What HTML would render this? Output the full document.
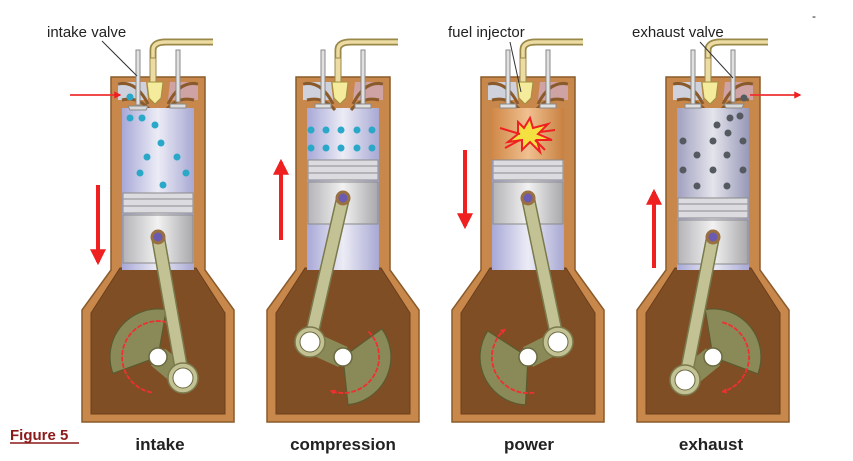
<!DOCTYPE html>
<html><head><meta charset="utf-8"><style>
html,body{margin:0;padding:0;background:#fff;}
svg{display:block;}
text{font-family:"Liberation Sans",sans-serif;}
</style></head><body>
<svg width="853" height="461" viewBox="0 0 853 461" xmlns="http://www.w3.org/2000/svg">
<defs>
<linearGradient id="bore" x1="0" x2="1" y1="0" y2="0">
<stop offset="0" stop-color="#a8a8d8"/><stop offset="0.5" stop-color="#ececf6"/><stop offset="1" stop-color="#a8a8d4"/></linearGradient>
<linearGradient id="skirt" x1="0" x2="1"><stop offset="0" stop-color="#b4b4b8"/><stop offset="0.5" stop-color="#f2f2f2"/><stop offset="1" stop-color="#a8a8ac"/></linearGradient>
<linearGradient id="hot" x1="0" x2="1"><stop offset="0" stop-color="#d08848"/><stop offset="0.5" stop-color="#f0c090"/><stop offset="1" stop-color="#c88040"/></linearGradient>
<linearGradient id="gas" x1="0" x2="1"><stop offset="0" stop-color="#a0a0c0"/><stop offset="0.5" stop-color="#e4e4ec"/><stop offset="1" stop-color="#9898b8"/></linearGradient>
<marker id="ah" viewBox="0 0 10 10" refX="8" refY="5" markerWidth="4" markerHeight="4" orient="auto"><path d="M0,0 L10,5 L0,10 z" fill="#ee2020"/></marker>
<marker id="ah2" viewBox="0 0 10 10" refX="8" refY="5" markerWidth="3" markerHeight="3" orient="auto"><path d="M0,0 L10,5 L0,10 z" fill="#ee3030"/></marker>
<g id="body">
<path d="M-47,77 L47,77 L47,270 L76,310 L76,422 L-76,422 L-76,310 L-47,270 Z" fill="#c8884c" stroke="#8a5a2a" stroke-width="1.5"/>
<path d="M-38,268 L38,268 L67,313 L67,414 L-67,414 L-67,313 Z" fill="#804e24" stroke="#6a3e1c"/>
<rect x="-36" y="108" width="72" height="162" fill="url(#bore)"/>
<path d="M-40,82 L-12,82 L-10,100 L-40,100 Z" fill="#cfd2dc"/>
<path d="M12,82 L40,82 L40,100 L10,100 Z" fill="#cfa2a4"/>
<path d="M-40,84 Q-22,80 -10,104 M40,84 Q22,80 10,104" stroke="#8a5a2a" stroke-width="3" fill="none"/>
<path d="M-36,100 Q-20,96 -8,110 M36,100 Q20,96 8,110" stroke="#8a5a2a" stroke-width="3" fill="none"/>
<path d="M-5,62 L-5,50 Q-5,42 8,42 L55,42" stroke="#9a8848" stroke-width="7" fill="none"/>
<path d="M-5,62 L-5,50 Q-5,42 8,42 L55,42" stroke="#ecdca4" stroke-width="3.5" fill="none"/>
<rect x="-8" y="58" width="6" height="26" fill="#ecdca4" stroke="#9a8848"/>
<path d="M-11,82 L5,82 L3,98 L-3,104 L-9,98 Z" fill="#f4ec9c" stroke="#a09040"/>
</g>
</defs>

<g transform="translate(158,0)"><use href="#body"/></g>
<rect x="122" y="108" width="72" height="85" fill="url(#bore)"/>
<g stroke="#8a8a8a" fill="#ddd"><rect x="136" y="50" width="4" height="55" fill="#e0e0e0"/><rect x="176" y="50" width="4" height="52" fill="#e0e0e0"/>
<path d="M128,106 L148,106 L146,110 L130,110Z" fill="#d8d8d8"/><path d="M170,104 L186,104 L186,108 L170,108Z"/></g>
<g fill="#2aa8c8"><circle cx="130" cy="97" r="3.5"/><circle cx="130" cy="118" r="3.5"/><circle cx="142" cy="118" r="3.5"/><circle cx="155" cy="125" r="3.5"/><circle cx="161" cy="143" r="3.5"/><circle cx="147" cy="157" r="3.5"/><circle cx="177" cy="157" r="3.5"/><circle cx="140" cy="173" r="3.5"/><circle cx="186" cy="173" r="3.5"/><circle cx="163" cy="185" r="3.5"/></g>

<g transform="translate(343,0)"><use href="#body"/></g>
<g fill="#e0e0e0" stroke="#8a8a8a"><rect x="321" y="50" width="4" height="55"/><rect x="361" y="50" width="4" height="55"/><rect x="315" y="104" width="16" height="4"/><rect x="355" y="104" width="16" height="4"/></g>
<g fill="#2aa8c8"><circle cx="311" cy="130" r="3.5"/><circle cx="326" cy="130" r="3.5"/><circle cx="341" cy="130" r="3.5"/><circle cx="357" cy="130" r="3.5"/><circle cx="372" cy="130" r="3.5"/><circle cx="311" cy="148" r="3.5"/><circle cx="326" cy="148" r="3.5"/><circle cx="341" cy="148" r="3.5"/><circle cx="357" cy="148" r="3.5"/><circle cx="372" cy="148" r="3.5"/></g>

<g transform="translate(528,0)"><use href="#body"/></g>
<rect x="492" y="108" width="72" height="52" fill="url(#hot)"/>
<g fill="#e0e0e0" stroke="#8a8a8a"><rect x="506" y="50" width="4" height="55"/><rect x="546" y="50" width="4" height="55"/><rect x="500" y="104" width="16" height="4"/><rect x="540" y="104" width="16" height="4"/></g>
<path d="M518,122 L524,128 L530,118 L533,128 L548,124 L538,134 L552,140 L537,140 L540,152 L530,142 L522,150 L522,140 L508,142 L518,134 Z" fill="#f4e040" stroke="#ee2020" stroke-width="2"/>
<path d="M500,128 L520,134 M505,148 L520,140 M545,150 L535,140 M555,130 L540,132" stroke="#ee2020" stroke-width="2"/>

<g transform="translate(713,0)"><use href="#body"/></g>
<rect x="677" y="108" width="72" height="90" fill="url(#gas)"/>
<g fill="#e0e0e0" stroke="#8a8a8a"><rect x="691" y="50" width="4" height="55"/><rect x="731" y="50" width="4" height="52"/><rect x="685" y="104" width="16" height="4"/><path d="M724,104 L744,104 L742,108 L726,108Z" fill="#d8d8d8"/></g>
<g fill="#555a60"><circle cx="744" cy="98" r="3.5"/><circle cx="730" cy="118" r="3.5"/><circle cx="740" cy="116" r="3.5"/><circle cx="717" cy="125" r="3.5"/><circle cx="683" cy="141" r="3.5"/><circle cx="713" cy="141" r="3.5"/><circle cx="728" cy="133" r="3.5"/><circle cx="743" cy="141" r="3.5"/><circle cx="697" cy="155" r="3.5"/><circle cx="727" cy="155" r="3.5"/><circle cx="683" cy="170" r="3.5"/><circle cx="713" cy="170" r="3.5"/><circle cx="743" cy="170" r="3.5"/><circle cx="697" cy="186" r="3.5"/><circle cx="727" cy="186" r="3.5"/></g>

<g stroke="#8a8a8a">
<rect x="123" y="193" width="70" height="20" fill="#dcdce0"/><rect x="123" y="215" width="70" height="48" fill="url(#skirt)"/>
<rect x="308" y="160" width="70" height="20" fill="#dcdce0"/><rect x="308" y="182" width="70" height="42" fill="url(#skirt)"/>
<rect x="493" y="160" width="70" height="20" fill="#dcdce0"/><rect x="493" y="182" width="70" height="42" fill="url(#skirt)"/>
<rect x="678" y="198" width="70" height="20" fill="#dcdce0"/><rect x="678" y="220" width="70" height="44" fill="url(#skirt)"/>
</g>
<g stroke="#9a9aa0" stroke-width="1.2">
<path d="M123,199 H193 M123,206 H193 M308,166 H378 M308,173 H378 M493,166 H563 M493,173 H563 M678,204 H748 M678,211 H748"/>
</g>

<g fill="#8a8a58" stroke="#5a5a30" stroke-width="1.2">
<path d="M158,357 L112.9,373.4 A48,48 0 0 1 166.3,309.7 Z"/><line x1="158" y1="357" x2="183" y2="378" stroke="#8a8a58" stroke-width="22"/>
<path d="M343,357 L381.8,328.8 A48,48 0 0 1 348,404.7 Z"/><line x1="343" y1="357" x2="310" y2="342" stroke="#8a8a58" stroke-width="22"/>
<path d="M528,357 L525.5,404.9 A48,48 0 0 1 487.7,330.9 Z"/><line x1="528" y1="357" x2="558" y2="342" stroke="#8a8a58" stroke-width="22"/>
<path d="M713,357 L705.2,309.6 A48,48 0 0 1 757.9,373.9 Z"/><line x1="713" y1="357" x2="685" y2="380" stroke="#8a8a58" stroke-width="22"/>
</g>
<g fill="#fff" stroke="#6a6a40" stroke-width="1.5">
<circle cx="158" cy="357" r="9"/><circle cx="343" cy="357" r="9"/><circle cx="528" cy="357" r="9"/><circle cx="713" cy="357" r="9"/></g>
<g stroke="#ee3030" stroke-width="1.8" fill="none" stroke-dasharray="5 1.5" marker-end="url(#ah2)">
<path d="M151.7,392.5 A36,36 0 1 1 170.3,323.2"/>
<path d="M368.5,331.5 A36,36 0 0 1 330.7,390.8"/>
<path d="M534.3,392.5 A36,36 0 0 1 504.9,329.4"/>
<path d="M722.3,322.2 A36,36 0 0 1 722.3,391.8"/>
</g>

<g stroke-linecap="round">
<g stroke="#7a7a4c" stroke-width="14"><line x1="158" y1="237" x2="183" y2="378"/><line x1="343" y1="198" x2="310" y2="342"/><line x1="528" y1="198" x2="558" y2="342"/><line x1="713" y1="237" x2="685" y2="380"/></g>
<g stroke="#c2c294" stroke-width="11"><line x1="158" y1="237" x2="183" y2="378"/><line x1="343" y1="198" x2="310" y2="342"/><line x1="528" y1="198" x2="558" y2="342"/><line x1="713" y1="237" x2="685" y2="380"/></g>
</g>
<g fill="#c2c294" stroke="#7a7a4c" stroke-width="1.5"><circle cx="183" cy="378" r="15"/><circle cx="310" cy="342" r="15"/><circle cx="558" cy="342" r="15"/><circle cx="685" cy="380" r="15"/></g>
<g fill="#fff" stroke="#6a6a40"><circle cx="183" cy="378" r="10"/><circle cx="310" cy="342" r="10"/><circle cx="558" cy="342" r="10"/><circle cx="685" cy="380" r="10"/></g>
<g fill="#6a5ab0" stroke="#9a7040" stroke-width="3"><circle cx="158" cy="237" r="6"/><circle cx="343" cy="198" r="6"/><circle cx="528" cy="198" r="6"/><circle cx="713" cy="237" r="6"/></g>

<g stroke="#ee2020" stroke-width="4" marker-end="url(#ah)">
<line x1="98" y1="185" x2="98" y2="262"/><line x1="281" y1="240" x2="281" y2="162"/><line x1="465" y1="150" x2="465" y2="226"/><line x1="654" y1="268" x2="654" y2="192"/>
</g>
<g stroke="#ee3030" stroke-width="1.8" marker-end="url(#ah)">
<line x1="70" y1="95" x2="120" y2="95"/><line x1="750" y1="95" x2="800" y2="95"/>
</g>

<g stroke="#333" stroke-width="1"><line x1="102" y1="41" x2="137" y2="76"/><line x1="510" y1="42" x2="521" y2="92"/><line x1="700" y1="42" x2="733" y2="78"/></g>
<g font-size="15" fill="#222">
<text x="47" y="37">intake valve</text>
<text x="448" y="37">fuel injector</text>
<text x="632" y="37">exhaust valve</text>
</g>
<text x="812" y="20" font-size="12" fill="#222">-</text>
<g font-size="17" font-weight="bold" fill="#222" text-anchor="middle">
<text x="160" y="450">intake</text><text x="343" y="450">compression</text><text x="529" y="450">power</text><text x="711" y="450">exhaust</text>
</g>
<text x="10" y="440" font-size="15" font-weight="bold" fill="#8b1a1a">Figure 5</text>
<line x1="10" y1="443" x2="79" y2="443" stroke="#8b1a1a" stroke-width="1.5"/>
</svg>
</body></html>
